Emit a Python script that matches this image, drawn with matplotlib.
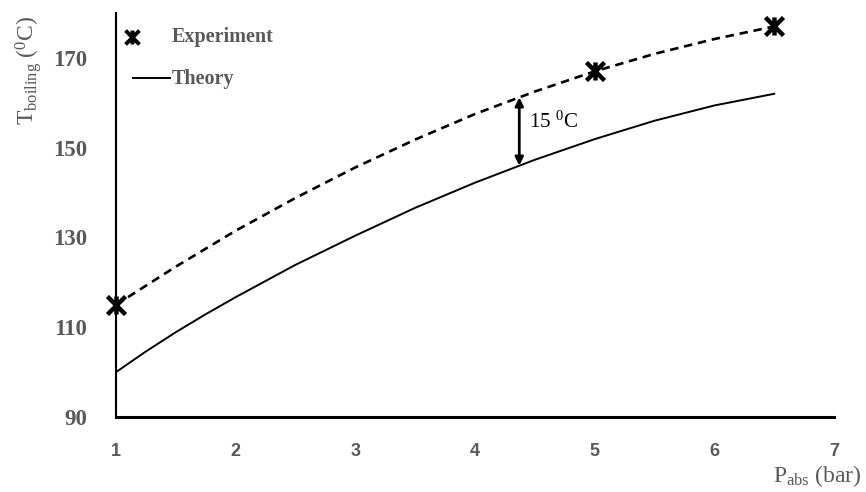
import matplotlib
matplotlib.use("Agg")  # headless backend

import matplotlib.pyplot as plt
from matplotlib.path import Path

# experimental points
p_exp = [1, 5, 6.5]
t_exp = [115, 167, 177]

# dashed trend through the experiment
p_trend = [1, 1.5, 2, 2.5, 3, 3.5, 4, 4.5, 5, 5.5, 6, 6.5]
t_trend = [115, 123.5, 131.5, 138.8, 145.6, 151.8, 157.5, 162.5, 167, 170.9, 174.2, 177]

# theory curve
p_theory = [1, 1.25, 1.5, 1.75, 2, 2.5, 3, 3.5, 4, 4.5, 5, 5.5, 6, 6.5]
t_theory = [100, 104.6, 108.9, 112.9, 116.7, 123.9, 130.4, 136.6, 142.2, 147.3, 151.9, 156, 159.4, 162]

# gap annotation
p_gap = 4.37
t_gap_low, t_gap_high = 146, 161.2
gap_label = "15 $^{0}$C"

x_ticks = [1, 2, 3, 4, 5, 6, 7]
y_ticks = [90, 110, 130, 150, 170]

plt.rcParams["font.family"] = ["Liberation Serif", "DejaVu Serif"]
plt.rcParams["mathtext.fontset"] = "custom"
plt.rcParams["mathtext.rm"] = "Liberation Serif"
plt.rcParams["mathtext.it"] = "Liberation Serif:italic"
plt.rcParams["mathtext.bf"] = "Liberation Serif:bold"

grey = "#595959"

# Excel-style star: an X with a vertical bar
star = Path([(0, -1), (0, 1), (-1, -1), (1, 1), (-1, 1), (1, -1)],
            [Path.MOVETO, Path.LINETO] * 3)

fig = plt.figure(figsize=(8.66, 4.92), dpi=100)
ax = fig.add_axes([116 / 866, 75 / 492, 718 / 866, 404 / 492])

ax.plot(p_trend, t_trend, color="black", lw=1.9, linestyle=(0, (3.2, 2.2)))
ax.plot(p_theory, t_theory, color="black", lw=1.4)
ax.plot(p_exp, t_exp, linestyle="none", marker=star, markersize=13,
        mew=3.2, color="black", clip_on=False, zorder=5)

ax.annotate("", xy=(p_gap, t_gap_low), xytext=(p_gap, t_gap_high),
            arrowprops=dict(arrowstyle="<|-|>", color="black", lw=2,
                            mutation_scale=12, shrinkA=0, shrinkB=0))
ax.text(p_gap + 0.08, (t_gap_low + t_gap_high) / 2 + 2, gap_label,
        fontsize=15, color="black", va="center", ha="left")

ax.set_xlim(1, 7)
ax.set_ylim(90, 180)
ax.set_xticks(x_ticks)
ax.set_yticks(y_ticks)
ax.tick_params(length=0)
ax.tick_params(axis="y", pad=21, labelsize=16.5, labelcolor=grey)
ax.tick_params(axis="x", pad=19, labelsize=13, labelcolor=grey)
for lab in ax.get_yticklabels():
    lab.set_fontweight("bold")
for lab in ax.get_xticklabels():
    lab.set_family(["Liberation Sans Narrow", "Liberation Sans", "DejaVu Sans"])
    lab.set_fontweight("bold")

for side in ["top", "right"]:
    ax.spines[side].set_visible(False)
ax.spines["left"].set_linewidth(1.5)
ax.spines["bottom"].set_linewidth(2.2)

fig.text(28 / 866, 1 - 70 / 492, "T$_{\\mathrm{boiling}}$ ($^{0}$C)",
         rotation=90, fontsize=17, color=grey, ha="center", va="center")
fig.text(862 / 866, 1 - 476 / 492, "P$_{\\mathrm{abs}}$ (bar)",
         fontsize=17, color=grey, ha="right", va="center")

# legend drawn by hand, in figure pixels
leg_kw = dict(transform=fig.transFigure, clip_on=False)
fig.add_artist(plt.Line2D([132 / 866], [1 - 37 / 492], linestyle="none",
                          marker=star, markersize=10, mew=2.8, color="black",
                          **leg_kw))
fig.add_artist(plt.Line2D([133 / 866, 170 / 866], [1 - 78 / 492, 1 - 78 / 492],
                          color="black", lw=1.4, **leg_kw))
fig.text(172 / 866, 1 - 37 / 492, "Experiment", fontsize=14.5, weight="bold",
         color=grey, va="center", ha="left")
fig.text(172 / 866, 1 - 79 / 492, "Theory", fontsize=14.5, weight="bold",
         color=grey, va="center", ha="left")

fig.savefig("out.png", dpi=100)
